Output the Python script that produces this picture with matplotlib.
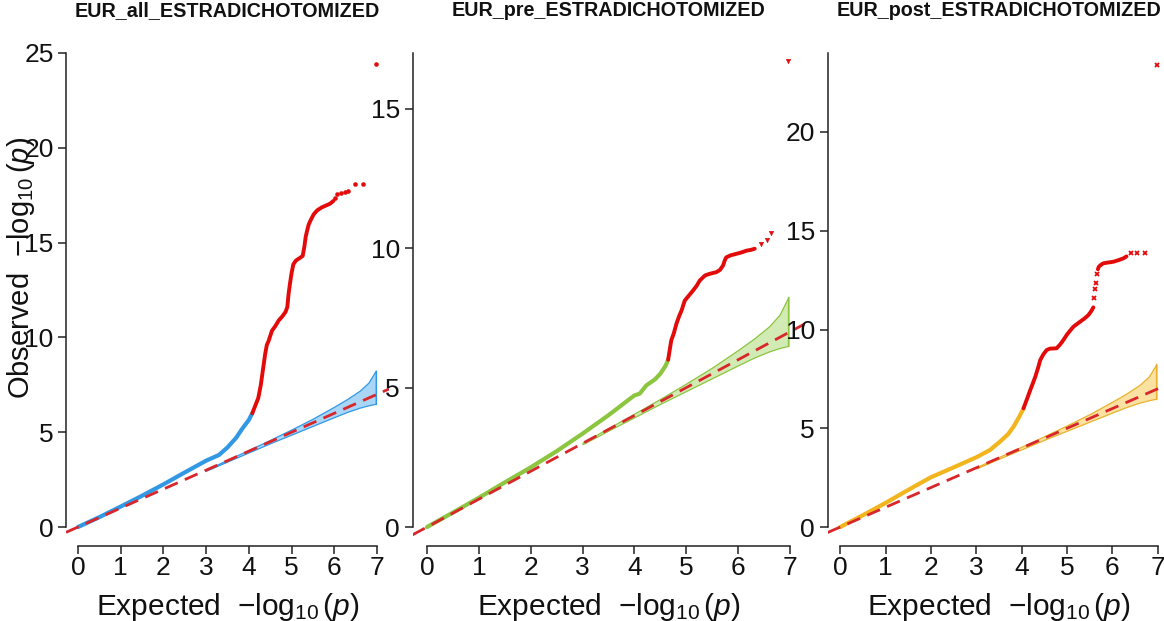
import math
import matplotlib
matplotlib.use("Agg")
import matplotlib.pyplot as plt

plt.rcParams["font.family"] = ["Liberation Sans", "DejaVu Sans"]
plt.rcParams["mathtext.fontset"] = "custom"
plt.rcParams["mathtext.rm"] = "Liberation Sans"
plt.rcParams["mathtext.it"] = "Liberation Sans:italic"
plt.rcParams["mathtext.bf"] = "Liberation Sans:bold"

# ---- data -------------------------------------------------------------
titles = ["EUR_all_ESTRADICHOTOMIZED", "EUR_pre_ESTRADICHOTOMIZED",
          "EUR_post_ESTRADICHOTOMIZED"]
x_ticks = [0, 1, 2, 3, 4, 5, 6, 7]

# shared 95% confidence band (expected, upper, lower)
band_x = [3.0, 3.5, 4.0, 4.5, 5.0, 5.5, 6.0, 6.3, 6.6, 6.8, 6.97]
band_hi = [3.03, 3.55, 4.07, 4.6, 5.15, 5.72, 6.35, 6.75, 7.2, 7.62, 8.25]
band_lo = [2.97, 3.46, 3.94, 4.42, 4.88, 5.34, 5.8, 6.07, 6.3, 6.42, 6.5]

# EUR_all
all_x = [0.0, 0.5, 1.0, 1.5, 2.0, 2.5, 3.0, 3.3, 3.5, 3.7, 3.85, 4.0, 4.08]
all_y = [0.0, 0.52, 1.08, 1.65, 2.25, 2.88, 3.5, 3.8, 4.2, 4.7, 5.2, 5.65, 6.0]
all_sig_x = [4.08, 4.15, 4.22, 4.28, 4.33, 4.38, 4.42, 4.46, 4.54, 4.62, 4.7,
             4.78, 4.86, 4.9, 4.93, 4.96, 5.0, 5.04, 5.1, 5.2, 5.26, 5.3,
             5.33, 5.36, 5.4, 5.45, 5.52, 5.6, 5.7, 5.8, 5.9, 5.98]
all_sig_y = [6.0, 6.4, 6.8, 7.5, 8.3, 9.1, 9.6, 9.8, 10.35, 10.6, 10.9,
             11.1, 11.35, 11.6, 12.3, 12.8, 13.4, 13.85, 14.05, 14.2, 14.3, 14.8,
             15.3, 15.6, 15.95, 16.2, 16.5, 16.7, 16.85, 16.95, 17.05, 17.2]
all_tail_x = [6.02, 6.06, 6.15, 6.25, 6.32, 6.49, 6.67, 6.97]
all_tail_y = [17.35, 17.55, 17.6, 17.65, 17.7, 18.1, 18.1, 24.4]

# EUR_pre
pre_x = [0.0, 0.5, 1.0, 1.5, 2.0, 2.5, 3.0, 3.5, 3.9, 4.0, 4.1, 4.23, 4.4,
         4.5, 4.6, 4.65]
pre_y = [0.0, 0.52, 1.05, 1.6, 2.14, 2.72, 3.35, 4.01, 4.58, 4.72, 4.78, 5.08,
         5.3, 5.5, 5.78, 6.0]
pre_sig_x = [4.65, 4.71, 4.76, 4.81, 4.86, 4.91, 4.97, 5.05, 5.13, 5.2, 5.26,
             5.36, 5.45, 5.58, 5.65, 5.71, 5.74, 5.77, 5.85, 5.97, 6.07, 6.16,
             6.25, 6.32]
pre_sig_y = [6.0, 6.69, 6.95, 7.29, 7.55, 7.77, 8.12, 8.3, 8.48, 8.65, 8.84,
             9.02, 9.08, 9.14, 9.22, 9.38, 9.55, 9.67, 9.74, 9.8, 9.85, 9.91,
             9.94, 9.98]
pre_tail_x = [6.45, 6.55, 6.64, 6.96]
pre_tail_y = [10.15, 10.3, 10.55, 16.7]

# EUR_post
post_x = [0.0, 0.5, 1.0, 1.5, 2.0, 2.5, 3.0, 3.3, 3.52, 3.7, 3.82, 3.95, 4.04]
post_y = [0.0, 0.6, 1.22, 1.88, 2.52, 3.02, 3.53, 3.9, 4.32, 4.7, 5.08, 5.6, 6.0]
post_sig_x = [4.04, 4.12, 4.19, 4.25, 4.30, 4.36, 4.41, 4.48, 4.55, 4.62, 4.7,
              4.77, 4.85, 4.92, 5.0, 5.07, 5.14, 5.22, 5.29, 5.38, 5.47, 5.53,
              5.58]
post_sig_y = [6.01, 6.5, 6.94, 7.3, 7.61, 8.05, 8.46, 8.75, 8.96, 9.03, 9.04,
              9.05, 9.25, 9.47, 9.75, 9.95, 10.14, 10.28, 10.4, 10.55, 10.73,
              10.92, 11.12]
post_sig2_x = [5.68, 5.7, 5.75, 5.8, 5.9, 6.02, 6.12, 6.24, 6.31]
post_sig2_y = [13.05, 13.18, 13.28, 13.35, 13.39, 13.43, 13.5, 13.6, 13.7]
post_tail_x = [5.60, 5.62, 5.64, 5.65, 6.41, 6.54, 6.72, 6.98]
post_tail_y = [11.58, 12.05, 12.34, 12.79, 13.86, 13.86, 13.86, 23.4]

# ---- styling ----------------------------------------------------------
W, H = 1164, 621
RED = "#E30A0A"
LINE_RED = "#D8262A"

panels = [
    dict(title=titles[0], left=66, right=389, color="#3398E4",
         fill="#A9D5F6", edge="#3398E4",
         base=(all_x, all_y), chains=[(all_sig_x, all_sig_y)],
         tail=(all_tail_x, all_tail_y), marker="o", ms=2.8),
    dict(title=titles[1], left=412.5, right=804.5, color="#8CC53F",
         fill="#D2EAB3", edge="#8CC53F",
         base=(pre_x, pre_y), chains=[(pre_sig_x, pre_sig_y)],
         tail=(pre_tail_x, pre_tail_y), marker="v", ms=3.2),
    dict(title=titles[2], left=827.5, right=1170.5, color="#F2B51E",
         fill="#FBE1A2", edge="#E8B22C",
         base=(post_x, post_y),
         chains=[(post_sig_x, post_sig_y), (post_sig2_x, post_sig2_y)],
         tail=(post_tail_x, post_tail_y), marker="x", ms=3.2),
]

TOP, BOTTOM = 34, 546

fig = plt.figure(figsize=(W / 100, H / 100), dpi=100)

for i, p in enumerate(panels):
    ax = fig.add_axes([p["left"] / W, 1 - BOTTOM / H,
                       (p["right"] - p["left"]) / W, (BOTTOM - TOP) / H])
    ax.patch.set_alpha(0)

    tail_y = p["tail"][1]
    ymax = math.ceil(max(tail_y))
    ax.set_xlim(-0.04 * 7, 7 * 1.04)
    ax.set_ylim(-0.04 * ymax, ymax * 1.04)

    # confidence band
    ax.fill_between(band_x, band_lo, band_hi, facecolor=p["fill"],
                    edgecolor=p["edge"], linewidth=0.9, zorder=2)
    ax.plot([band_x[-1], band_x[-1]], [band_lo[-1], band_hi[-1]],
            color=p["edge"], lw=0.9, zorder=2)

    # observed curve below threshold
    bx, by = p["base"]
    ax.plot(bx, by, color=p["color"], lw=3.0, solid_capstyle="round",
            solid_joinstyle="round", zorder=3)

    # expected diagonal
    ax.axline((0, 0), slope=1, color=LINE_RED, lw=2.0, dashes=(5.0, 2.8),
              zorder=4)

    # significant points
    for cx, cy in p["chains"]:
        ax.plot(cx, cy, color=RED, lw=2.8, solid_capstyle="round",
                solid_joinstyle="round", zorder=5)
    tx, ty = p["tail"]
    if p["marker"] == "x":
        ax.plot(tx, ty, ls="none", marker="x", ms=p["ms"], mew=1.3,
                color=RED, zorder=5)
    else:
        ax.plot(tx, ty, ls="none", marker=p["marker"], ms=p["ms"],
                mfc=RED, mec=RED, mew=0.4, zorder=5)

    # R-style axes
    for s in ("top", "right"):
        ax.spines[s].set_visible(False)
    ax.spines["left"].set_bounds(0, ymax)
    ax.spines["bottom"].set_bounds(0, 7)
    for s in ("left", "bottom"):
        ax.spines[s].set_linewidth(1.1)
        ax.spines[s].set_color("#222222")
    ax.set_xticks(x_ticks)
    ax.set_yticks(list(range(0, ymax + 1, 5)))
    ax.tick_params(axis="both", direction="out", length=6, width=1.1,
                   color="#222222", labelsize=19, labelcolor="#111111")
    ax.tick_params(axis="x", pad=1)
    ax.tick_params(axis="y", pad=3)

    cx_px = (p["left"] + p["right"]) / 2
    fig.text(cx_px / W, 1 - 11 / H, p["title"], ha="center", va="center",
             fontsize=14.2, fontweight="bold", color="#111111")
    fig.text(cx_px / W, 1 - 607 / H, r"Expected  $-\log_{10}(p)$",
             ha="center", va="center", fontsize=21.5, color="#111111")

fig.text(21 / W, 1 - 268 / H, r"Observed  $-\log_{10}(p)$", ha="center",
         va="center", rotation=90, fontsize=21, color="#111111")

fig.savefig("out.png", dpi=100, facecolor="white")
